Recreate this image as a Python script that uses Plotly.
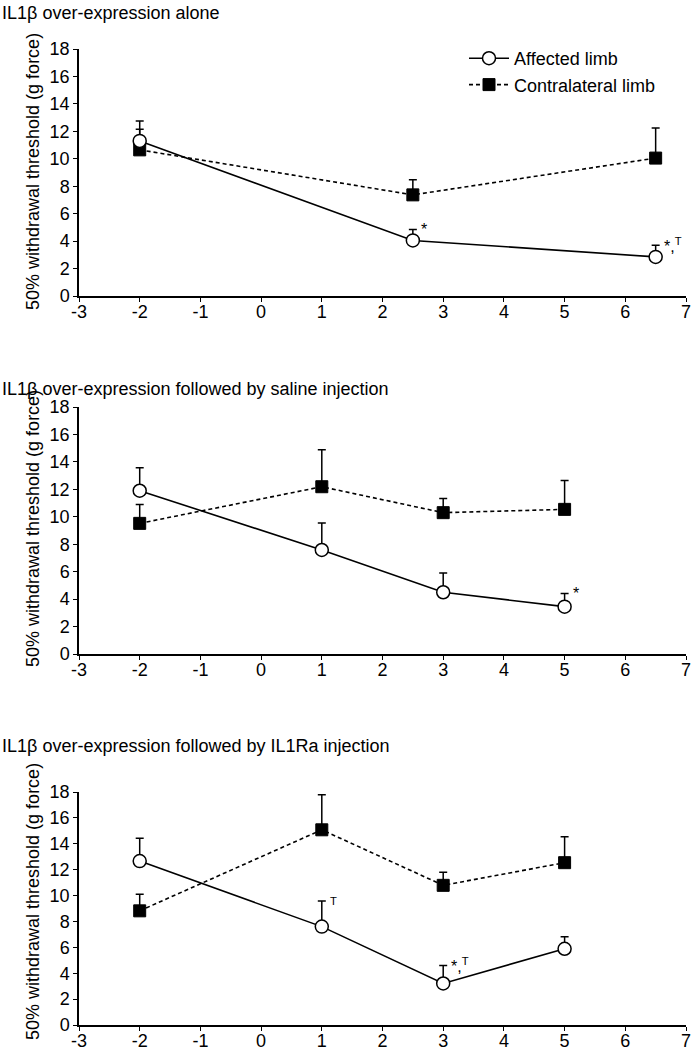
import plotly.graph_objects as go

# ---------------- data ----------------
titles = [
    "IL1β over-expression alone",
    "IL1β over-expression followed by saline injection",
    "IL1β over-expression followed by IL1Ra injection",
]
x_p1 = [-2, 2.5, 6.5]
aff_p1 = [11.3, 4.05, 2.85]
aff_err_p1 = [1.45, 0.8, 0.85]
con_p1 = [10.65, 7.37, 10.05]
con_err_p1 = [1.5, 1.1, 2.2]

x_p2 = [-2, 1, 3, 5]
aff_p2 = [11.9, 7.58, 4.5, 3.45]
aff_err_p2 = [1.68, 1.97, 1.4, 0.95]
con_p2 = [9.52, 12.19, 10.3, 10.54]
con_err_p2 = [1.38, 2.7, 1.04, 2.1]

x_p3 = [-2, 1, 3, 5]
aff_p3 = [12.66, 7.6, 3.21, 5.89]
aff_err_p3 = [1.76, 1.97, 1.39, 0.93]
con_p3 = [8.82, 15.08, 10.79, 12.54]
con_err_p3 = [1.28, 2.7, 1.02, 2.0]

# significance labels: (x, y top of error bar, text)
sig_p1 = [(2.5, 4.85, "*"), (6.5, 3.7, "*,<sup>T</sup>")]
sig_p2 = [(5, 4.4, "*")]
sig_p3 = [(1, 9.57, "<sup>T</sup>"), (3, 4.6, "*,<sup>T</sup>")]

x_ticks = [-3, -2, -1, 0, 1, 2, 3, 4, 5, 6, 7]
x_tick_text = ["-3", "-2", "-1", "0", "1", "2", "3", "4", "5", "6", "7"]
y_ticks = [0, 2, 4, 6, 8, 10, 12, 14, 16, 18]
y_title = "50% withdrawal threshold (g force)"

# ---------------- layout geometry ----------------
W, H = 692, 1050
FONT = "Liberation Sans, Arial, Helvetica, sans-serif"


def px_x(p):
    return p / W


def px_y(p):
    return 1 - p / H


x_dom = [px_x(79), px_x(686)]
y_px = [(49, 296), (407, 654), (792, 1025)]
y_doms = [[px_y(b), px_y(t)] for (t, b) in y_px]
title_y = [13, 389, 746]
ytitle_center = [172, 529, 902]

panels = [
    (x_p1, aff_p1, aff_err_p1, con_p1, con_err_p1, sig_p1),
    (x_p2, aff_p2, aff_err_p2, con_p2, con_err_p2, sig_p2),
    (x_p3, aff_p3, aff_err_p3, con_p3, con_err_p3, sig_p3),
]

fig = go.Figure()
annotations = []
for i, (xs, aff, aerr, con, cerr, sig) in enumerate(panels):
    sfx = "" if i == 0 else str(i + 1)
    xa, ya = "x" + sfx, "y" + sfx
    fig.add_trace(go.Scatter(
        x=xs, y=con, xaxis=xa, yaxis=ya, mode="lines+markers",
        name="Contralateral limb", showlegend=(i == 0),
        line=dict(color="black", width=1.6, dash="4px,3px"),
        marker=dict(symbol="square", size=12, color="black",
                    line=dict(color="black", width=1)),
        error_y=dict(type="data", symmetric=False, array=cerr,
                     arrayminus=[0] * len(cerr), color="black",
                     thickness=1.5, width=4),
    ))
    fig.add_trace(go.Scatter(
        x=xs, y=aff, xaxis=xa, yaxis=ya, mode="lines+markers",
        name="Affected limb", showlegend=(i == 0),
        line=dict(color="black", width=1.6),
        marker=dict(symbol="circle", size=13, color="white",
                    line=dict(color="black", width=1.5)),
        error_y=dict(type="data", symmetric=False, array=aerr,
                     arrayminus=[0] * len(aerr), color="black",
                     thickness=1.5, width=4),
    ))
    axis_common = dict(showline=True, linecolor="black", linewidth=1.5,
                       ticks="outside", ticklen=4, tickwidth=1.2,
                       tickcolor="black", showgrid=False, zeroline=False,
                       automargin=False, ticklabeloverflow="allow",
                       tickfont=dict(family=FONT, size=18, color="black"))
    fig.update_layout(**{
        "xaxis" + sfx: dict(domain=x_dom, range=[-3, 7], tickvals=x_ticks,
                            ticktext=x_tick_text, anchor=ya,
                            ticklabelstandoff=-5, **axis_common),
        "yaxis" + sfx: dict(domain=y_doms[i], range=[0, 18], tickvals=y_ticks,
                            anchor=xa, **axis_common),
    })
    annotations.append(dict(
        x=px_x(0), y=px_y(title_y[i]), xref="paper", yref="paper",
        xanchor="left", yanchor="middle", showarrow=False, text=titles[i],
        font=dict(family=FONT, size=18, color="black")))
    annotations.append(dict(
        x=px_x(33), y=px_y(ytitle_center[i]),
        xref="paper", yref="paper", xanchor="center", yanchor="middle",
        textangle=-90, showarrow=False, text=y_title,
        font=dict(family=FONT, size=18, color="black")))
    for (sx, sy, st) in sig:
        annotations.append(dict(
            x=sx, y=sy, xref=xa, yref=ya, xanchor="left", yanchor="middle",
            xshift=6, yshift=0, showarrow=False, text=st,
            font=dict(family=FONT, size=16, color="black")))

fig.update_layout(
    width=W, height=H,
    margin=dict(l=0, r=0, t=0, b=0, autoexpand=False),
    paper_bgcolor="white", plot_bgcolor="white",
    annotations=annotations,
    legend=dict(x=px_x(464), y=px_y(40), xanchor="left", yanchor="top",
                traceorder="reversed", bgcolor="rgba(0,0,0,0)",
                font=dict(family=FONT, size=18, color="black"),
                itemwidth=40, tracegroupgap=0),
    font=dict(family=FONT, color="black"),
)

fig.write_html("out.html",
               config={"displayModeBar": False},
               post_script="document.body.style.margin='0px';")
